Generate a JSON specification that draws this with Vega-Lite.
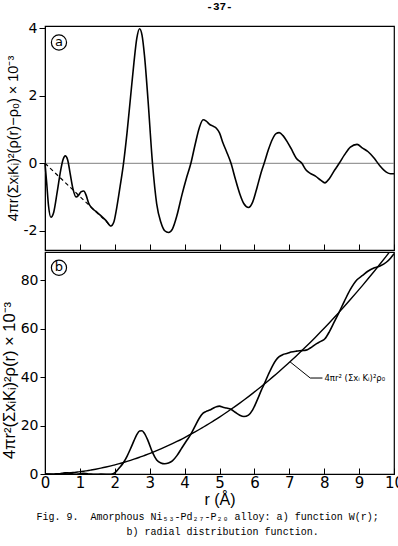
{
  "$schema": "https://vega.github.io/schema/vega-lite/v6.json",
  "background": "white",
  "padding": {"left": 0, "top": 0, "right": 0, "bottom": 2},
  "spacing": -3,
  "datasets": {
    "curves": [
      {"r": 0, "W": 0, "g": 0, "p": 0},
      {"r": 0.05, "W": -0.6, "g": -0.03, "p": 0.0},
      {"r": 0.1, "W": -1.25, "g": -0.12, "p": 0.01},
      {"r": 0.17, "W": -1.6, "g": -0.25, "p": 0.03},
      {"r": 0.25, "W": -1.45, "g": -0.31, "p": 0.06},
      {"r": 0.35, "W": -0.85, "g": -0.18, "p": 0.12},
      {"r": 0.45, "W": -0.2, "g": 0.1, "p": 0.19},
      {"r": 0.52, "W": 0.12, "g": 0.31, "p": 0.25},
      {"r": 0.58, "W": 0.22, "g": 0.45, "p": 0.32},
      {"r": 0.65, "W": 0.1, "g": 0.46, "p": 0.4},
      {"r": 0.72, "W": -0.3, "g": 0.27, "p": 0.49},
      {"r": 0.8, "W": -0.75, "g": 0.0, "p": 0.6},
      {"r": 0.89, "W": -1.0, "g": -0.14, "p": 0.74},
      {"r": 0.96, "W": -0.95, "g": -0.04, "p": 0.87},
      {"r": 1.03, "W": -0.85, "g": 0.12, "p": 1.0},
      {"r": 1.11, "W": -0.82, "g": 0.25, "p": 1.16},
      {"r": 1.18, "W": -0.95, "g": 0.19, "p": 1.31},
      {"r": 1.25, "W": -1.18, "g": 0.0, "p": 1.47},
      {"r": 1.32, "W": -1.3, "g": -0.07, "p": 1.64},
      {"r": 1.45, "W": -1.42, "g": -0.08, "p": 1.98},
      {"r": 1.6, "W": -1.55, "g": -0.07, "p": 2.41},
      {"r": 1.75, "W": -1.7, "g": -0.1, "p": 2.88},
      {"r": 1.89, "W": -1.86, "g": -0.16, "p": 3.36},
      {"r": 1.97, "W": -1.75, "g": 0.2, "p": 3.65},
      {"r": 2.05, "W": -1.35, "g": 1.18, "p": 3.95},
      {"r": 2.15, "W": -0.7, "g": 2.84, "p": 4.35},
      {"r": 2.25, "W": 0, "g": 4.76, "p": 4.76},
      {"r": 2.35, "W": 0.9, "g": 7.31, "p": 5.19},
      {"r": 2.45, "W": 1.95, "g": 10.42, "p": 5.64},
      {"r": 2.55, "W": 3.0, "g": 13.76, "p": 6.11},
      {"r": 2.63, "W": 3.7, "g": 16.23, "p": 6.5},
      {"r": 2.71, "W": 3.99, "g": 17.72, "p": 6.9},
      {"r": 2.78, "W": 3.8, "g": 17.82, "p": 7.26},
      {"r": 2.85, "W": 3.2, "g": 16.75, "p": 7.64},
      {"r": 2.95, "W": 1.9, "g": 13.78, "p": 8.18},
      {"r": 3.08, "W": 0, "g": 8.92, "p": 8.92},
      {"r": 3.2, "W": -1.2, "g": 5.79, "p": 9.63},
      {"r": 3.32, "W": -1.75, "g": 4.55, "p": 10.36},
      {"r": 3.43, "W": -2.0, "g": 4.2, "p": 11.06},
      {"r": 3.54, "W": -2.05, "g": 4.52, "p": 11.78},
      {"r": 3.65, "W": -1.95, "g": 5.41, "p": 12.52},
      {"r": 3.78, "W": -1.55, "g": 7.58, "p": 13.43},
      {"r": 3.92, "W": -0.95, "g": 10.72, "p": 14.44},
      {"r": 4.05, "W": -0.45, "g": 13.6, "p": 15.42},
      {"r": 4.18, "W": 0, "g": 16.42, "p": 16.42},
      {"r": 4.3, "W": 0.55, "g": 19.75, "p": 17.38},
      {"r": 4.42, "W": 1.05, "g": 23.0, "p": 18.36},
      {"r": 4.53, "W": 1.29, "g": 25.13, "p": 19.29},
      {"r": 4.62, "W": 1.25, "g": 25.84, "p": 20.06},
      {"r": 4.72, "W": 1.15, "g": 26.37, "p": 20.94},
      {"r": 4.82, "W": 1.1, "g": 27.14, "p": 21.84},
      {"r": 4.91, "W": 1.04, "g": 27.77, "p": 22.66},
      {"r": 5.0, "W": 0.9, "g": 28.0, "p": 23.5},
      {"r": 5.1, "W": 0.6, "g": 27.51, "p": 24.45},
      {"r": 5.2, "W": 0.35, "g": 27.24, "p": 25.42},
      {"r": 5.33, "W": 0, "g": 26.7, "p": 26.7},
      {"r": 5.45, "W": -0.45, "g": 25.47, "p": 27.92},
      {"r": 5.58, "W": -0.9, "g": 24.24, "p": 29.27},
      {"r": 5.7, "W": -1.2, "g": 23.7, "p": 30.54},
      {"r": 5.83, "W": -1.31, "g": 24.31, "p": 31.95},
      {"r": 5.95, "W": -1.15, "g": 26.44, "p": 33.28},
      {"r": 6.08, "W": -0.7, "g": 30.49, "p": 34.75},
      {"r": 6.2, "W": -0.25, "g": 34.58, "p": 36.13},
      {"r": 6.28, "W": 0, "g": 37.07, "p": 37.07},
      {"r": 6.4, "W": 0.4, "g": 41.06, "p": 38.5},
      {"r": 6.52, "W": 0.72, "g": 44.65, "p": 39.96},
      {"r": 6.62, "W": 0.88, "g": 47.02, "p": 41.19},
      {"r": 6.71, "W": 0.91, "g": 48.43, "p": 42.32},
      {"r": 6.82, "W": 0.82, "g": 49.3, "p": 43.72},
      {"r": 6.95, "W": 0.62, "g": 49.8, "p": 45.4},
      {"r": 7.05, "W": 0.44, "g": 50.3, "p": 46.72},
      {"r": 7.2, "W": 0.15, "g": 50.7, "p": 48.73},
      {"r": 7.36, "W": 0, "g": 50.92, "p": 50.92},
      {"r": 7.48, "W": -0.2, "g": 51.1, "p": 52.59},
      {"r": 7.6, "W": -0.3, "g": 52.0, "p": 54.29},
      {"r": 7.75, "W": -0.38, "g": 53.5, "p": 56.46},
      {"r": 7.9, "W": -0.5, "g": 54.7, "p": 58.67},
      {"r": 8.02, "W": -0.58, "g": 55.8, "p": 60.46},
      {"r": 8.15, "W": -0.45, "g": 58.77, "p": 62.44},
      {"r": 8.3, "W": -0.2, "g": 63.1, "p": 64.76},
      {"r": 8.43, "W": 0, "g": 66.8, "p": 66.8},
      {"r": 8.58, "W": 0.25, "g": 71.35, "p": 69.2},
      {"r": 8.75, "W": 0.48, "g": 76.17, "p": 71.97},
      {"r": 8.94, "W": 0.56, "g": 80.14, "p": 75.13},
      {"r": 9.1, "W": 0.45, "g": 81.94, "p": 77.84},
      {"r": 9.25, "W": 0.35, "g": 83.67, "p": 80.43},
      {"r": 9.44, "W": 0.14, "g": 85.09, "p": 83.77},
      {"r": 9.6, "W": -0.08, "g": 85.86, "p": 86.63},
      {"r": 9.78, "W": -0.26, "g": 87.37, "p": 89.91},
      {"r": 9.9, "W": -0.31, "g": 89.06, "p": 92.13},
      {"r": 10, "W": -0.31, "g": 90.9, "p": 94.0}
    ],
    "dash": [{"r": 0, "W": 0}, {"r": 1.85, "W": -1.82}],
    "leader": [{"r": 7.02, "g": 46.3}, {"r": 7.6, "g": 39.6}, {"r": 7.95, "g": 39.6}],
    "tagA": [{"r": 0.4, "W": 3.58, "t": "a"}],
    "tagB": [{"r": 0.4, "g": 85.1, "t": "b"}],
    "note": [{"r": 7.95, "g": 39.6, "t": "4πr² (Σxᵢ Kᵢ)²ρ₀"}]
  },
  "title": {
    "text": "Fig. 9.\u00a0 Amorphous Ni₅₃-Pd₂₇-P₂₀ alloy: a) function W(r);",
    "subtitle": "\u200b\u00a0\u00a0\u00a0\u00a0\u00a0\u00a0\u00a0\u00a0\u00a0\u00a0\u00a0\u00a0\u00a0\u00a0\u00a0b) radial distribution function.",
    "orient": "bottom",
    "anchor": "start",
    "dx": 36,
    "font": "Liberation Mono",
    "fontSize": 10,
    "fontWeight": "normal",
    "color": "black",
    "subtitleFont": "Liberation Mono",
    "subtitleFontSize": 10,
    "subtitleColor": "black",
    "subtitlePadding": 5,
    "offset": 4
  },
  "config": {
    "view": {"stroke": "black", "strokeWidth": 1.2},
    "axis": {
      "domainColor": "black",
      "tickColor": "black",
      "labelFont": "DejaVu Sans",
      "labelColor": "black",
      "titleFont": "Liberation Sans",
      "titleFontWeight": "normal",
      "titleColor": "black",
      "grid": false
    }
  },
  "vconcat": [
    {
      "width": 349,
      "height": 224,
      "title": {"text": "-37-", "font": "Liberation Mono", "fontSize": 11, "fontWeight": "bold", "anchor": "middle", "offset": 9, "color": "black"},
      "encoding": {
        "x": {
          "field": "r", "type": "quantitative",
          "scale": {"domain": [0, 10], "nice": false, "padding": 0},
          "axis": {"values": [0, 1, 2, 3, 4, 5, 6, 7, 8, 9, 10], "labels": false, "tickSize": -6, "labelPadding": 0, "title": null}
        }
      },
      "layer": [
        {
          "data": {"values": [{}]},
          "mark": {"type": "rule", "color": "#808080", "strokeWidth": 1},
          "encoding": {"y": {"datum": 0, "type": "quantitative"}, "x": null}
        },
        {
          "data": {"name": "dash"},
          "mark": {"type": "line", "strokeDash": [4, 3], "color": "black", "strokeWidth": 1.2},
          "encoding": {
            "y": {"field": "W", "type": "quantitative", "scale": {"domain": [-2.57, 4.07], "nice": false, "zero": false, "padding": 0},
              "axis": {"values": [-2, -1, 0, 1, 2, 3, 4], "tickSize": 6, "labelFontSize": 14, "labelExpr": "replace(datum.label, '−', '-')", "title": "4πr(ΣxᵢKᵢ)²(ρ(r)−ρ₀) × 10⁻³", "titleFontSize": 14.5, "titlePadding": 3}}
          }
        },
        {
          "data": {"name": "curves"},
          "mark": {"type": "line", "interpolate": "monotone", "color": "black", "strokeWidth": 1.6},
          "encoding": {
            "y": {"field": "W", "type": "quantitative", "scale": {"domain": [-2.57, 4.07], "nice": false, "zero": false, "padding": 0},
              "axis": {"values": [-2, -1, 0, 1, 2, 3, 4], "tickSize": 6, "labelFontSize": 14, "labelExpr": "replace(datum.label, '−', '-')", "title": "4πr(ΣxᵢKᵢ)²(ρ(r)−ρ₀) × 10⁻³", "titleFontSize": 14.5, "titlePadding": 3}}
          }
        },
        {
          "data": {"name": "tagA"},
          "mark": {"type": "point", "shape": "circle", "size": 230, "filled": false, "color": "black", "strokeWidth": 1.2, "opacity": 1},
          "encoding": {"y": {"field": "W", "type": "quantitative"}}
        },
        {
          "data": {"name": "tagA"},
          "mark": {"type": "text", "font": "DejaVu Sans", "fontSize": 13, "color": "black", "baseline": "middle", "align": "center", "dy": -1},
          "encoding": {"y": {"field": "W", "type": "quantitative"}, "text": {"field": "t"}}
        }
      ]
    },
    {
      "width": 349,
      "height": 222,
      "encoding": {
        "x": {
          "field": "r", "type": "quantitative",
          "scale": {"domain": [0, 10], "nice": false, "padding": 0},
          "axis": {"values": [0, 1, 2, 3, 4, 5, 6, 7, 8, 9, 10], "labelFlush": false, "tickSize": -6, "labelPadding": 7, "labelFontSize": 15, "title": "r (Å)", "titleFontSize": 16, "titlePadding": 1}
        }
      },
      "layer": [
        {
          "data": {"name": "curves"},
          "mark": {"type": "line", "interpolate": "monotone", "color": "black", "strokeWidth": 1.4, "clip": true},
          "encoding": {
            "y": {"field": "p", "type": "quantitative", "scale": {"domain": [0, 91.6], "nice": false, "padding": 0},
              "axis": {"values": [0, 10, 20, 30, 40, 50, 60, 70, 80, 90], "tickSize": 5, "labelFontSize": 14, "labelExpr": "datum.value % 20 == 0 ? datum.label : ''", "title": "4πr²(ΣxᵢKᵢ)²ρ(r) × 10⁻³", "titleFontSize": 16.5, "titlePadding": 3, "titleY": 128}}
          }
        },
        {
          "data": {"name": "curves"},
          "mark": {"type": "line", "interpolate": "monotone", "color": "black", "strokeWidth": 1.6, "clip": true},
          "encoding": {
            "y": {"field": "g", "type": "quantitative", "scale": {"domain": [0, 91.6], "nice": false, "padding": 0},
              "axis": {"values": [0, 10, 20, 30, 40, 50, 60, 70, 80, 90], "tickSize": 5, "labelFontSize": 14, "labelExpr": "datum.value % 20 == 0 ? datum.label : ''", "title": "4πr²(ΣxᵢKᵢ)²ρ(r) × 10⁻³", "titleFontSize": 16.5, "titlePadding": 3, "titleY": 128}}
          }
        },
        {
          "data": {"name": "leader"},
          "mark": {"type": "line", "color": "black", "strokeWidth": 1},
          "encoding": {"y": {"field": "g", "type": "quantitative"}}
        },
        {
          "data": {"name": "note"},
          "mark": {"type": "text", "font": "DejaVu Sans", "fontSize": 8.5, "color": "black", "align": "left", "baseline": "middle", "dx": 2},
          "encoding": {"y": {"field": "g", "type": "quantitative"}, "text": {"field": "t"}}
        },
        {
          "data": {"name": "tagB"},
          "mark": {"type": "point", "shape": "circle", "size": 230, "filled": false, "color": "black", "strokeWidth": 1.2, "opacity": 1},
          "encoding": {"y": {"field": "g", "type": "quantitative"}}
        },
        {
          "data": {"name": "tagB"},
          "mark": {"type": "text", "font": "DejaVu Sans", "fontSize": 13, "color": "black", "baseline": "middle", "align": "center", "dy": -1},
          "encoding": {"y": {"field": "g", "type": "quantitative"}, "text": {"field": "t"}}
        }
      ]
    }
  ]
}
